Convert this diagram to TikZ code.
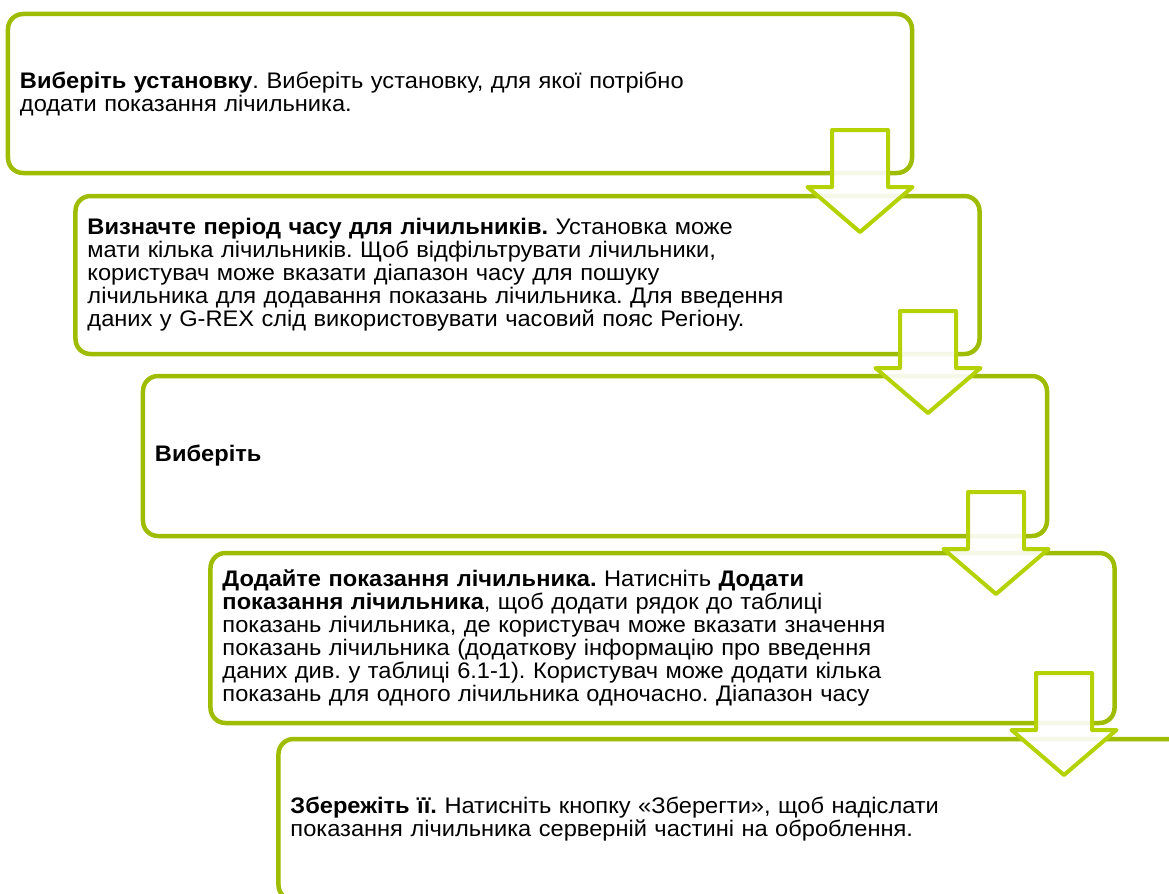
\documentclass[tikz,border=0pt]{standalone}
\usepackage{fontspec}
\setmainfont{Liberation Sans}[FakeStretch=1.05]
\usetikzlibrary{positioning}
\frenchspacing

\definecolor{boxgreen}{RGB}{158,188,0}
\definecolor{arrowgreen}{RGB}{180,210,0}

\tikzstyle{stepbox}   = [draw=boxgreen, line width=4.5bp, rounded corners=15bp, fill=white,
                         minimum width=904bp, minimum height=159bp, text width=880bp,
                         inner xsep=12bp, inner ysep=0pt, align=left,
                         font=\fontsize{22.5bp}{23bp}\selectfont]
\tikzstyle{flowarrow} = [draw=arrowgreen, line width=4bp, line join=round, fill=white, fill opacity=0.9]

\tikzset{
    downarrow/.pic={
        \draw[flowarrow] (-28,0) -- (28,0) -- (28,57) -- (52.5,57)
            -- (0,102) -- (-52.5,57) -- (-28,57) -- cycle;
    }
}

\begin{document}
\begin{tikzpicture}[x=1bp, y=-1bp]

        \useasboundingbox (0,0) rectangle (1169,894);
        \clip (0,0) rectangle (1169,894);

        % Kroky
        \node[stepbox] (box1) at (460,93.5)
            {\textbf{Виберіть установку}. Виберіть установку, для якої потрібно\\
             додати показання лічильника.};

        \node[stepbox, minimum height=158bp] (box2) at (527.5,275)
            {\textbf{Визначте період часу для лічильників.} Установка може\\
             мати кілька лічильників. Щоб відфільтрувати лічильники,\\
             користувач може вказати діапазон часу для пошуку\\
             лічильника для додавання показань лічильника. Для введення\\
             даних у G-REX слід використовувати часовий пояс Регіону.};

        \node[stepbox, minimum height=160bp] (box3) at (595,456)
            {\textbf{Виберіть}};

        \node[stepbox, minimum height=170bp] (box4) at (662.5,638)
            {\textbf{Додайте показання лічильника.} Натисніть \textbf{Додати}\\
             \textbf{показання лічильника}, щоб додати рядок до таблиці\\
             показань лічильника, де користувач може вказати значення\\
             показань лічильника (додаткову інформацію про введення\\
             даних див. у таблиці 6.1-1). Користувач може додати кілька\\
             показань для одного лічильника одночасно. Діапазон часу};

        \node[stepbox, minimum height=161bp] (box5) at (730.5,819.5)
            {\textbf{Збережіть її.} Натисніть кнопку «Зберегти», щоб надіслати\\
             показання лічильника серверній частині на оброблення.};

        % Šipky
        \pic at (860,130) {downarrow};
        \pic at (928,311) {downarrow};
        \pic at (996,492) {downarrow};
        \pic at (1064,673) {downarrow};

    \end{tikzpicture}
\end{document}
